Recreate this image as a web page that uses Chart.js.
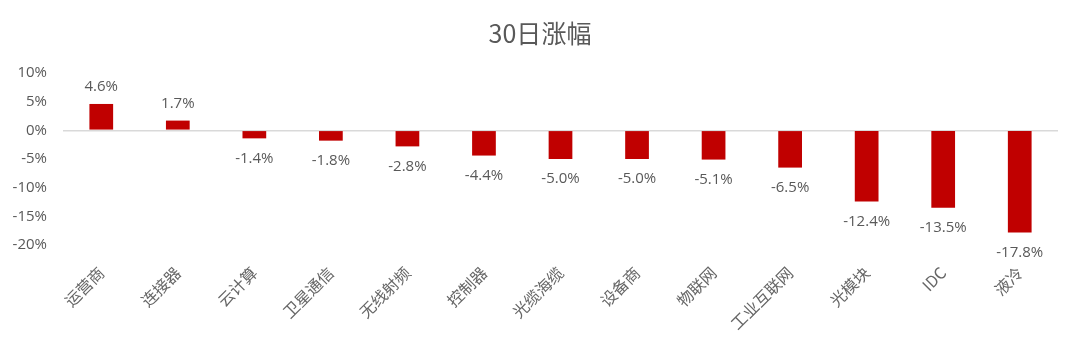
<!DOCTYPE html>
<html>
<head>
<meta charset="utf-8">
<script src="https://cdn.jsdelivr.net/npm/chart.js@4/dist/chart.umd.min.js"></script>
<style>
html,body{margin:0;padding:0;background:#fff;}
#wrap{width:1080px;height:344px;position:relative;}
</style>
</head>
<body>
<div id="wrap"><canvas id="c"></canvas></div>
<script>
const titleText = '30日涨幅';
const categories = ['运营商','连接器','云计算','卫星通信','无线射频','控制器','光缆海缆','设备商','物联网','工业互联网','光模块','IDC','液冷'];
const changes = [4.6, 1.7, -1.4, -1.8, -2.8, -4.4, -5.0, -5.0, -5.1, -6.5, -12.4, -13.5, -17.8];
const yMin = -20, yMax = 10, yStep = 5;

const FONT = '"Open Sans", "Noto Sans CJK SC", sans-serif';
const CJK = '"Noto Sans CJK SC", sans-serif';
const GRAY = '#595959';

const valueLabels = {
  id: 'valueLabels',
  afterDatasetsDraw(chart) {
    const ctx = chart.ctx;
    const meta = chart.getDatasetMeta(0);
    ctx.save();
    ctx.font = '15px ' + FONT;
    ctx.fillStyle = GRAY;
    ctx.textAlign = 'center';
    ctx.textBaseline = 'middle';
    meta.data.forEach((bar, i) => {
      const v = changes[i];
      const y = v >= 0 ? bar.y - 17 : bar.y + 20;
      ctx.fillText(v.toFixed(1) + '%', bar.x, y);
    });
    ctx.restore();
  }
};

new Chart(document.getElementById('c'), {
  type: 'bar',
  data: {
    labels: categories,
    datasets: [{
      data: changes,
      backgroundColor: '#C00000',
      borderWidth: 0,
      barPercentage: 0.31,
      categoryPercentage: 1
    }]
  },
  options: {
    responsive: true,
    maintainAspectRatio: false,
    animation: false,
    layout: { padding: { left: 0, right: 0, top: 0, bottom: 0 } },
    plugins: {
      legend: { display: false },
      tooltip: { enabled: false },
      title: {
        display: true,
        text: titleText,
        color: GRAY,
        font: { size: 25, family: CJK, weight: 'normal', lineHeight: 1.2 },
        padding: { top: 18, bottom: 25 }
      }
    },
    scales: {
      y: {
        min: yMin, max: yMax,
        ticks: {
          stepSize: yStep,
          color: GRAY,
          font: { size: 15, family: FONT },
          padding: 16,
          callback: v => v + '%'
        },
        grid: {
          drawTicks: false,
          color: c => (c.tick && c.tick.value === 0) ? '#d9d9d9' : 'rgba(0,0,0,0)',
          lineWidth: 1.5
        },
        border: { display: false },
        afterFit: s => { s.width = 63; }
      },
      yRight: {
        position: 'right',
        display: true,
        min: yMin, max: yMax,
        ticks: { display: false },
        grid: { display: false, drawTicks: false },
        border: { display: false },
        afterFit: s => { s.width = 22; }
      },
      x: {
        ticks: {
          color: '#666666',
          font: { size: 16, family: CJK },
          maxRotation: 45, minRotation: 45,
          autoSkip: false,
          padding: 18
        },
        grid: { display: false, drawTicks: false },
        border: { display: false },
        afterFit: s => { s.height = 99; }
      }
    }
  },
  plugins: [valueLabels]
});
</script>
</body>
</html>
